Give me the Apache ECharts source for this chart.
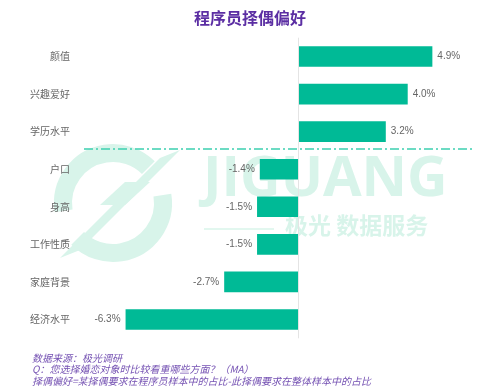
<!DOCTYPE html>
<html><head><meta charset="utf-8">
<script src="https://cdn.jsdelivr.net/npm/echarts@6/dist/echarts.min.js"></script>
<style>html,body{margin:0;padding:0;background:#fff}#c{width:500px;height:392px}</style>
</head><body><div id="c"></div>
<script>
const categories = ['颜值','兴趣爱好','学历水平','户口','身高','工作性质','家庭背景','经济水平'];
const values = [4.9, 4.0, 3.2, -1.4, -1.5, -1.5, -2.7, -6.3];
const titleText = '程序员择偶偏好';
const notes = ['数据来源：极光调研','Q：您选择婚恋对象时比较看重哪些方面？（MA）','择偶偏好=某择偶要求在程序员样本中的占比-此择偶要求在整体样本中的占比'];

const font = '"Noto Sans CJK SC", "Noto Sans", sans-serif';
const wm = '#d8f4ea';
const chart = echarts.init(document.getElementById('c'), null, {renderer:'canvas'});
chart.setOption({
  animation:false,
  backgroundColor:'#fff',
  title:{text:titleText,left:'center',top:5,textStyle:{fontFamily:font,fontSize:16,fontWeight:'bold',color:'#5b2ea3'}},
  graphic:[
    // watermark logo
    {type:'arc',shape:{cx:113,cy:203,r:50,startAngle:Math.PI*0.95,endAngle:Math.PI*1.75},style:{stroke:wm,lineWidth:18,fill:null},z:-10},
    {type:'arc',shape:{cx:113,cy:203,r:50,startAngle:-Math.PI*0.05,endAngle:Math.PI*0.75},style:{stroke:wm,lineWidth:18,fill:null},z:-10},
    {type:'polygon',shape:{points:[[60,258],[160,158],[180,150],[80,250]]},style:{fill:wm},z:-10},
    {type:'polygon',shape:{points:[[100,205],[125,182],[150,182],[125,205]]},style:{fill:wm},z:-10},
    {type:'text',left:203,top:152,z:-10,style:{text:'JIGUANG',font:'bold 56px "Open Sans", sans-serif',fill:wm}},
    {type:'text',left:285,top:214,z:-10,style:{text:'极光 数据服务',font:'bold 23px "Noto Sans CJK SC", sans-serif',fill:wm}},
    {type:'line',shape:{x1:204,y1:229,x2:274,y2:229},style:{stroke:wm,lineWidth:1.5},z:-10},
    // dashed divider
    {type:'line',shape:{x1:84,y1:149,x2:472,y2:149},style:{stroke:'#3ccfb0',lineWidth:1.5,lineDash:[9,3,2,3]},z:5},
    // notes
    {type:'text',left:32,top:352,style:{text:notes.join('\n'),font:'italic 10px "Noto Sans CJK SC", sans-serif',fill:'#7552b3',lineHeight:11.5}}
  ],
  grid:{left:79,right:37.5,top:37.7,bottom:53.7},
  xAxis:{type:'value',min:-8,max:6,show:false,splitLine:{show:false}},
  yAxis:{type:'category',inverse:true,data:categories,
    axisLine:{show:false},axisTick:{show:false},
    axisLabel:{margin:9,color:'#666',fontSize:10,fontFamily:font}},
  series:[{type:'bar',data:values.map(v=>({value:v,label:{position:v<0?'left':'right'}})),
    barWidth:'55%',itemStyle:{color:'#00ba96'},
    label:{show:true,distance:5,color:'#666',fontSize:10,fontFamily:'"Liberation Sans", Arial, sans-serif',formatter:p=>p.value.toFixed(1)+'%'},
    markLine:{silent:true,symbol:['none','none'],label:{show:false},lineStyle:{color:'#e4e4e4',type:'solid',width:1},data:[{xAxis:0}]}
  }]
});
</script></body></html>
